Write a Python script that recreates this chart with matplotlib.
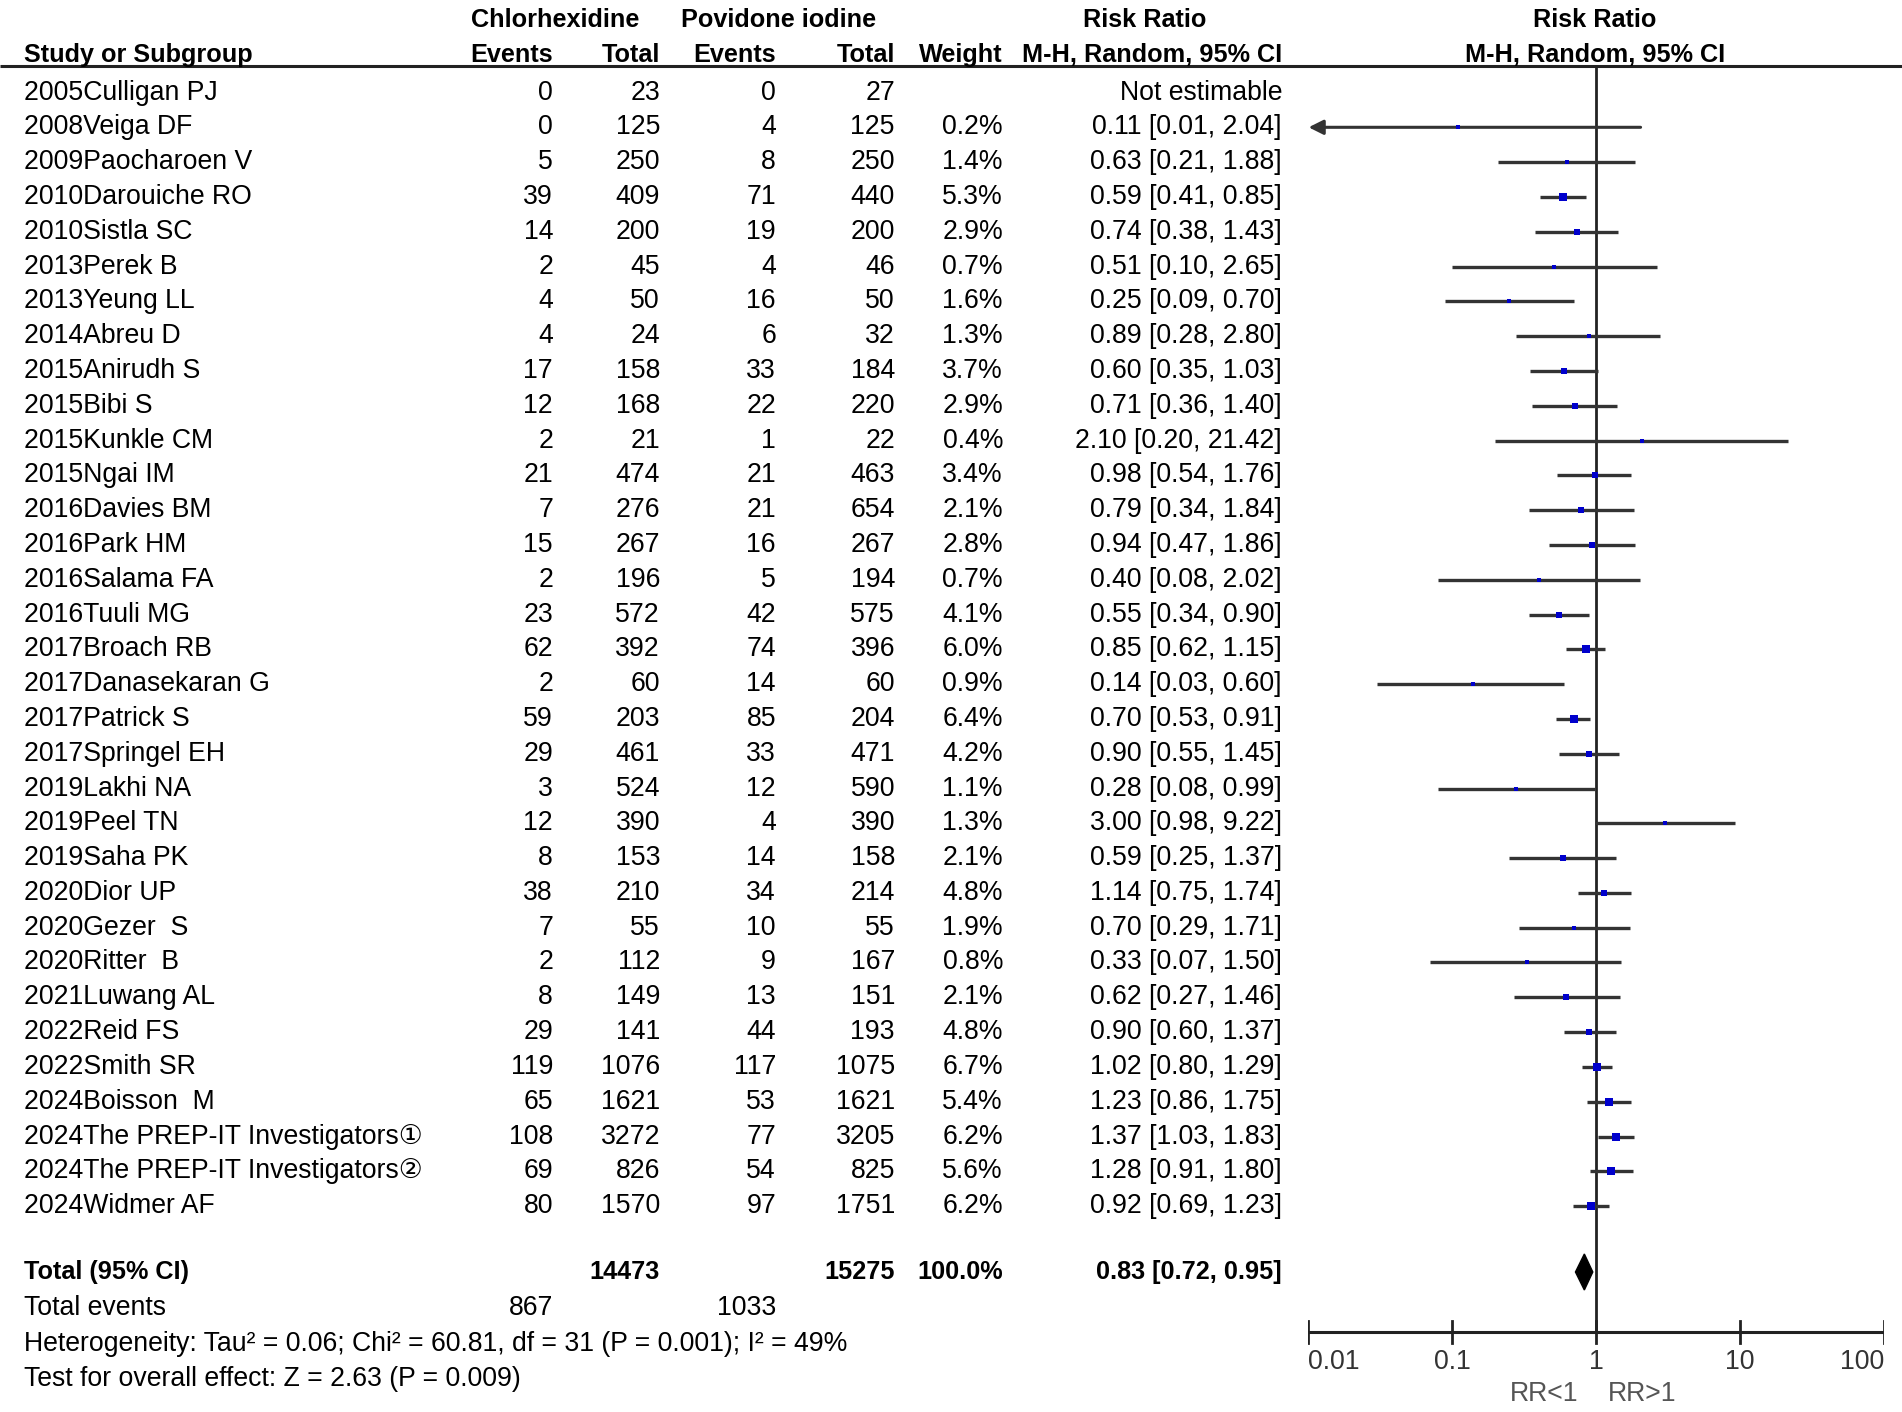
import matplotlib
matplotlib.use("Agg")
import matplotlib.pyplot as plt
from matplotlib.patches import Polygon

plt.rcParams['font.family'] = ['Liberation Sans', 'DejaVu Sans', 'Noto Sans CJK SC']

studies = ["2005Culligan PJ", "2008Veiga DF", "2009Paocharoen V", "2010Darouiche RO",
           "2010Sistla SC", "2013Perek B", "2013Yeung LL", "2014Abreu D", "2015Anirudh S",
           "2015Bibi S", "2015Kunkle CM", "2015Ngai IM", "2016Davies BM", "2016Park HM",
           "2016Salama FA", "2016Tuuli MG", "2017Broach RB", "2017Danasekaran G",
           "2017Patrick S", "2017Springel EH", "2019Lakhi NA", "2019Peel TN", "2019Saha PK",
           "2020Dior UP", "2020Gezer  S", "2020Ritter  B", "2021Luwang AL", "2022Reid FS",
           "2022Smith SR", "2024Boisson  M", "2024The PREP-IT Investigators\u2460",
           "2024The PREP-IT Investigators\u2461", "2024Widmer AF"]
chx_events = [0, 0, 5, 39, 14, 2, 4, 4, 17, 12, 2, 21, 7, 15, 2, 23, 62, 2, 59, 29, 3, 12, 8,
              38, 7, 2, 8, 29, 119, 65, 108, 69, 80]
chx_total = [23, 125, 250, 409, 200, 45, 50, 24, 158, 168, 21, 474, 276, 267, 196, 572, 392,
             60, 203, 461, 524, 390, 153, 210, 55, 112, 149, 141, 1076, 1621, 3272, 826, 1570]
pvi_events = [0, 4, 8, 71, 19, 4, 16, 6, 33, 22, 1, 21, 21, 16, 5, 42, 74, 14, 85, 33, 12, 4,
              14, 34, 10, 9, 13, 44, 117, 53, 77, 54, 97]
pvi_total = [27, 125, 250, 440, 200, 46, 50, 32, 184, 220, 22, 463, 654, 267, 194, 575, 396,
             60, 204, 471, 590, 390, 158, 214, 55, 167, 151, 193, 1075, 1621, 3205, 825, 1751]
weights = [None, 0.2, 1.4, 5.3, 2.9, 0.7, 1.6, 1.3, 3.7, 2.9, 0.4, 3.4, 2.1, 2.8, 0.7, 4.1,
           6.0, 0.9, 6.4, 4.2, 1.1, 1.3, 2.1, 4.8, 1.9, 0.8, 2.1, 4.8, 6.7, 5.4, 6.2, 5.6, 6.2]
rr = [None, 0.11, 0.63, 0.59, 0.74, 0.51, 0.25, 0.89, 0.60, 0.71, 2.10, 0.98, 0.79, 0.94,
      0.40, 0.55, 0.85, 0.14, 0.70, 0.90, 0.28, 3.00, 0.59, 1.14, 0.70, 0.33, 0.62, 0.90,
      1.02, 1.23, 1.37, 1.28, 0.92]
ci_lo = [None, 0.01, 0.21, 0.41, 0.38, 0.10, 0.09, 0.28, 0.35, 0.36, 0.20, 0.54, 0.34, 0.47,
         0.08, 0.34, 0.62, 0.03, 0.53, 0.55, 0.08, 0.98, 0.25, 0.75, 0.29, 0.07, 0.27, 0.60,
         0.80, 0.86, 1.03, 0.91, 0.69]
ci_hi = [None, 2.04, 1.88, 0.85, 1.43, 2.65, 0.70, 2.80, 1.03, 1.40, 21.42, 1.76, 1.84, 1.86,
         2.02, 0.90, 1.15, 0.60, 0.91, 1.45, 0.99, 9.22, 1.37, 1.74, 1.71, 1.50, 1.46, 1.37,
         1.29, 1.75, 1.83, 1.80, 1.23]

total_chx = 14473
total_pvi = 15275
events_chx = 867
events_pvi = 1033
pooled = (0.83, 0.72, 0.95)
het_text = "Heterogeneity: Tau\u00b2 = 0.06; Chi\u00b2 = 60.81, df = 31 (P = 0.001); I\u00b2 = 49%"
overall_text = "Test for overall effect: Z = 2.63 (P = 0.009)"
ticks = [0.01, 0.1, 1, 10, 100]
tick_labels = ["0.01", "0.1", "1", "10", "100"]

W, H = 1902, 1412
fig = plt.figure(figsize=(W / 100, H / 100), dpi=100)
ax = fig.add_axes([0, 0, 1, 1])
ax.set_xlim(0, W)
ax.set_ylim(H, 0)
ax.axis('off')

FS = 19.2
FSB = 18.2
x_study = 24
x_ce, x_ct, x_pe, x_pt, x_w, x_ci = 553, 660, 776, 895, 1003, 1282
x_plot_l, x_plot_r = 1308, 1884
y_h1, y_h2, y_line = 20, 55, 65.5
y0, dy = 92.5, 34.8

# headers
hb = dict(fontsize=FSB, fontweight='bold', va='center')
ax.text(555, y_h1, "Chlorhexidine", ha='center', **hb)
ax.text(779, y_h1, "Povidone iodine", ha='center', **hb)
ax.text(1145, y_h1, "Risk Ratio", ha='center', **hb)
ax.text(1595, y_h1, "Risk Ratio", ha='center', **hb)
ax.text(x_study, y_h2, "Study or Subgroup", ha='left', **hb)
for x, t in [(x_ce, "Events"), (x_ct, "Total"), (x_pe, "Events"), (x_pt, "Total"),
             (x_w, "Weight"), (x_ci, "M-H, Random, 95% CI")]:
    ax.text(x, y_h2, t, ha='right', **hb)
ax.text(1595, y_h2, "M-H, Random, 95% CI", ha='center', **hb)
ax.plot([0, W], [y_line, y_line], color='#222222', lw=2.2, solid_capstyle='butt')

# rows
for i, s in enumerate(studies):
    y = y0 + i * dy
    kw = dict(fontsize=FS, va='center')
    ax.text(x_study, y, s, ha='left', **kw)
    ax.text(x_ce, y, str(chx_events[i]), ha='right', **kw)
    ax.text(x_ct, y, str(chx_total[i]), ha='right', **kw)
    ax.text(x_pe, y, str(pvi_events[i]), ha='right', **kw)
    ax.text(x_pt, y, str(pvi_total[i]), ha='right', **kw)
    if weights[i] is not None:
        ax.text(x_w, y, f"{weights[i]:.1f}%", ha='right', **kw)
        ax.text(x_ci, y, f"{rr[i]:.2f} [{ci_lo[i]:.2f}, {ci_hi[i]:.2f}]", ha='right', **kw)
    else:
        ax.text(x_ci, y, "Not estimable", ha='right', **kw)

y_tot = 1272
ax.text(x_study, y_tot, "Total (95% CI)", ha='left', **hb)
ax.text(x_ct, y_tot, str(total_chx), ha='right', **hb)
ax.text(x_pt, y_tot, str(total_pvi), ha='right', **hb)
ax.text(x_w, y_tot, "100.0%", ha='right', **hb)
ax.text(x_ci, y_tot, f"{pooled[0]:.2f} [{pooled[1]:.2f}, {pooled[2]:.2f}]", ha='right', **hb)
ax.text(x_study, 1308, "Total events", ha='left', fontsize=FS, va='center')
ax.text(x_ce, 1308, str(events_chx), ha='right', fontsize=FS, va='center')
ax.text(x_pe, 1308, str(events_pvi), ha='right', fontsize=FS, va='center')
ax.text(x_study, 1344, het_text, ha='left', fontsize=FS, va='center')
ax.text(x_study, 1379, overall_text, ha='left', fontsize=FS, va='center')

# RR direction labels
ax.text(1578, 1394, "RR<1", ha='right', va='center', fontsize=FS, color='#555555')
ax.text(1608, 1394, "RR>1", ha='left', va='center', fontsize=FS, color='#555555')

# forest axes
fx = fig.add_axes([x_plot_l / W, 0, (x_plot_r - x_plot_l) / W, 1])
fx.set_xscale('log')
fx.set_xlim(0.01, 100)
fx.set_ylim(H, 0)
fx.axis('off')

y_axis = 1332
fx.plot([1, 1], [y_line, y_axis], color='#222222', lw=2)
fx.plot([0.01, 100], [y_axis, y_axis], color='#222222', lw=2.2)
for t, lab in zip(ticks, tick_labels):
    fx.plot([t, t], [y_axis - 11, y_axis + 11], color='#222222', lw=2)
    ha = 'left' if t == ticks[0] else ('right' if t == ticks[-1] else 'center')
    fx.text(t, 1362, lab, ha=ha, va='center', fontsize=FS, color='#333333')

for i in range(len(studies)):
    if rr[i] is None:
        continue
    y = y0 + i * dy
    lo = max(ci_lo[i], 0.01)
    hi = min(ci_hi[i], 100)
    if ci_lo[i] <= 0.01:
        fx.annotate("", xy=(0.0101, y), xytext=(hi, y),
                    arrowprops=dict(arrowstyle='-|>', color='#333333', lw=2.2,
                                    mutation_scale=22, shrinkA=0, shrinkB=0))
    else:
        fx.plot([lo, hi], [y, y], color='#333333', lw=2.4, solid_capstyle='butt')
    side = 3.6 + 0.68 * weights[i]
    fx.plot([rr[i]], [y], marker='s', color='#0000cc', markersize=side * 0.72,
            markeredgewidth=0, linestyle='none', zorder=5)

# pooled diamond
est, lo, hi = pooled
dia = Polygon([(lo, y_tot), (est, y_tot - 18), (hi, y_tot), (est, y_tot + 18)],
              closed=True, facecolor='black', edgecolor='black')
fx.add_patch(dia)

fig.savefig("out.png", dpi=100)
